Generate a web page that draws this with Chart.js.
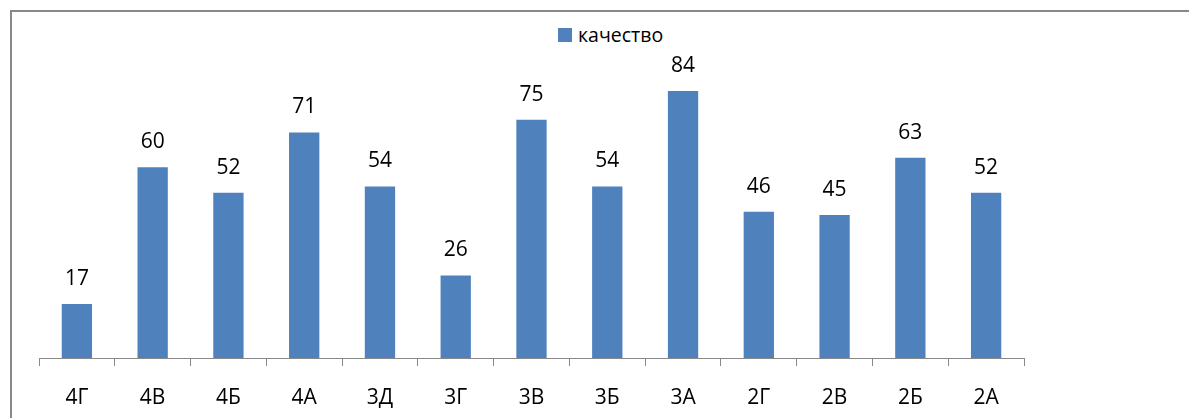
<!DOCTYPE html>
<html>
<head>
<meta charset="utf-8">
<script src="https://cdn.jsdelivr.net/npm/chart.js@4"></script>
<style>
  html, body { margin: 0; padding: 0; background: #fff; }
  #wrap { position: relative; width: 1189px; height: 418px; overflow: hidden; }
  #frame {
    position: absolute; left: 10px; top: 10px; width: 1300px; height: 500px;
    border-top: 2px solid #888; border-left: 2px solid #888;
  }
  #legend {
    position: absolute; top: 21px; left: 558px;
    font-family: "Open Sans", sans-serif; font-size: 19.5px; color: #000;
    display: flex; align-items: center; white-space: nowrap;
  }
  #legend span.box { display: inline-block; width: 14px; height: 14px; background: #4f81bd; margin-right: 6px; }
  #qualityChart { position: absolute; left: 0; top: 0; }
</style>
</head>
<body>
<div id="wrap">
  <div id="frame"></div>
  <div id="legend"><span class="box"></span>качество</div>
  <canvas id="qualityChart" width="1189" height="418"></canvas>
</div>
<script>
const classes = ["4Г", "4В", "4Б", "4А", "3Д", "3Г", "3В", "3Б", "3А", "2Г", "2В", "2Б", "2А"];
const quality = [17, 60, 52, 71, 54, 26, 75, 54, 84, 46, 45, 63, 52];

// draws the value above every bar
const valueLabels = {
  id: "valueLabels",
  afterDatasetsDraw(chart) {
    const c = chart.ctx;
    c.save();
    c.font = "21px 'Open Sans', sans-serif";
    c.fillStyle = "#000";
    c.textAlign = "center";
    c.textBaseline = "alphabetic";
    chart.getDatasetMeta(0).data.forEach((bar, i) => {
      c.fillText(String(quality[i]), bar.x, bar.y - 19);
    });
    c.restore();
  },
};

const ctx = document.getElementById("qualityChart").getContext("2d");
new Chart(ctx, {
  type: "bar",
  data: {
    labels: classes,
    datasets: [
      {
        label: "качество",
        data: quality,
        backgroundColor: "#4f81bd",
        barPercentage: 0.4,
        categoryPercentage: 1.0,
      },
    ],
  },
  options: {
    responsive: false,
    animation: false,
    layout: { padding: { left: 39, right: 165, top: 72, bottom: 0 } },
    plugins: {
      legend: { display: false },
      tooltip: { enabled: false },
    },
    scales: {
      x: {
        offset: true,
        afterFit(scale) {
          scale.height = 60; // axis band below the bars
        },
        grid: {
          offset: true,
          drawOnChartArea: false,
          drawTicks: true,
          tickLength: 8,
          color: "#888",
        },
        border: { display: true, color: "#888", width: 1 },
        ticks: {
          padding: 22,
          color: "#000",
          font: { family: "'Open Sans', sans-serif", size: 21, lineHeight: 1.0 },
        },
      },
      y: {
        display: false,
        min: 0,
        max: 90,
      },
    },
  },
  plugins: [valueLabels],
});
</script>
</body>
</html>
